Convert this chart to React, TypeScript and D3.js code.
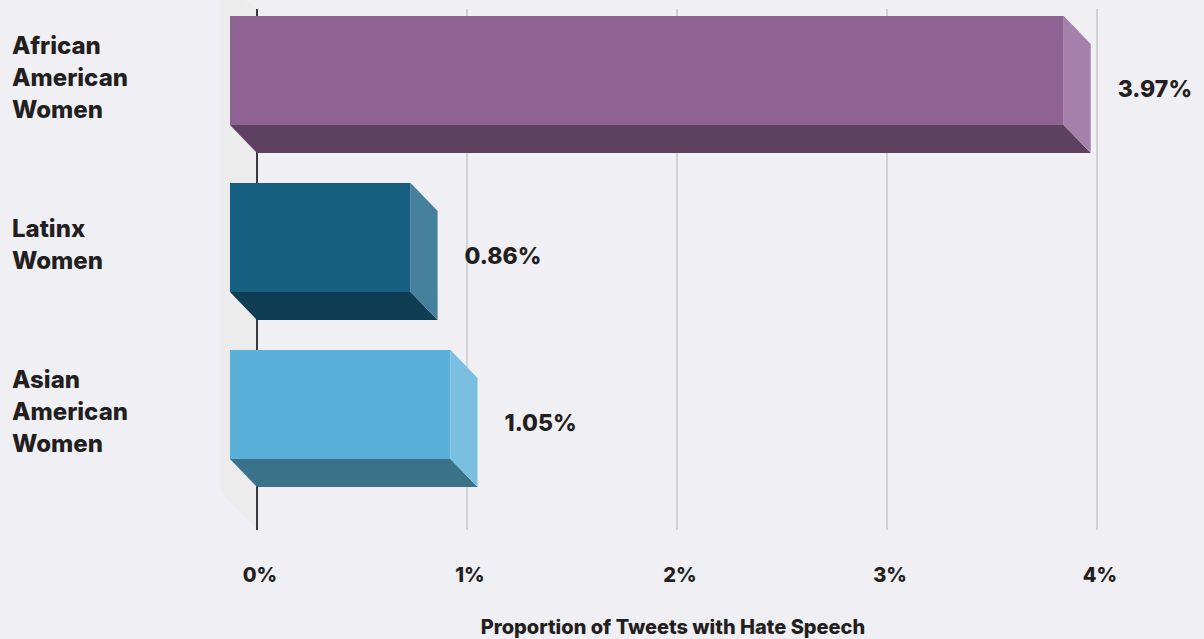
import React from "react";
import * as d3 from "d3";

const categories = ["African American Women", "Latinx Women", "Asian American Women"];
const categoryLines = [["African", "American", "Women"], ["Latinx", "Women"], ["Asian", "American", "Women"]];
const values = [3.97, 0.86, 1.05];
const valueLabels = ["3.97%", "0.86%", "1.05%"];
const ticks = [0, 1, 2, 3, 4];
const tickLabels = ["0%", "1%", "2%", "3%", "4%"];
const frontColors = ["#8e6393", "#175f80", "#5ab0d9"];
const bottomColors = ["#5e4061", "#0f3d54", "#3a7289"];
const sideColors = ["#a580aa", "#45809d", "#7bbfe0"];
const axisTitle = "Proportion of Tweets with Hate Speech";

const W = 1204;
const H = 639;
const DX = 27;
const DY = 28;
const FONT = "Inter, 'Noto Sans', sans-serif";
const TEXT = "#231f20";

export default function App() {
  const x = d3.scaleLinear().domain([0, 4]).range([257, 1097]);
  const y = d3.scaleBand<string>().domain(categories).range([16, 487]).paddingInner(30 / 167).paddingOuter(0);
  const bw = y.bandwidth();
  const frontH = bw - DY;
  const x0 = x(0);
  const gridTop = 9;
  const gridBottom = 530;

  const wall = [
    [x0 - 37, gridTop - 28],
    [x0, gridTop],
    [x0, gridBottom],
    [x0 - 37, gridBottom - 39],
  ];

  return (
    <svg width={W} height={H} style={{ position: "absolute", left: 0, top: 0, display: "block" }}>
      <rect x={0} y={0} width={W} height={H} fill="#f0eff4" />
      <polygon points={wall.map((p) => p.join(",")).join(" ")} fill="#ececed" />
      {ticks.map((t, i) => (
        <line
          key={"g" + i}
          x1={x(t)}
          x2={x(t)}
          y1={gridTop}
          y2={gridBottom}
          stroke={t === 0 ? "#3a3a3a" : "#d2d1d4"}
          strokeWidth={2}
        />
      ))}
      {categories.map((c, i) => {
        const top = y(c)!;
        const xb = x(values[i]);
        const fx0 = x0 - DX;
        const fx1 = xb - DX;
        const front = `${fx0},${top} ${fx1},${top} ${fx1},${top + frontH} ${fx0},${top + frontH}`;
        const bottom = `${fx0},${top + frontH} ${fx1},${top + frontH} ${xb},${top + bw} ${x0},${top + bw}`;
        const side = `${fx1},${top} ${xb},${top + DY} ${xb},${top + bw} ${fx1},${top + frontH}`;
        return (
          <g key={c}>
            <polygon points={front} fill={frontColors[i]} />
            <polygon points={bottom} fill={bottomColors[i]} />
            <polygon points={side} fill={sideColors[i]} />
            <text
              x={xb + 27}
              y={top + bw / 2 + 12}
              fontFamily={FONT}
              fontWeight={800}
              fontSize={23}
              fill={TEXT}
            >
              {valueLabels[i]}
            </text>
          </g>
        );
      })}
      {categories.map((c, i) => {
        const lines = categoryLines[i];
        const center = y(c)! + bw / 2;
        const lh = 32;
        const first = center + 1 - ((lines.length - 1) * lh) / 2;
        return (
          <text key={"l" + c} fontFamily={FONT} fontWeight={800} fontSize={24} fill={TEXT}>
            {lines.map((ln, j) => (
              <tspan key={j} x={12} y={first + j * lh}>
                {ln}
              </tspan>
            ))}
          </text>
        );
      })}
      {ticks.map((t, i) => (
        <text
          key={"t" + i}
          x={x(t) + 3}
          y={582}
          textAnchor="middle"
          fontFamily={FONT}
          fontWeight={800}
          fontSize={20}
          fill={TEXT}
        >
          {tickLabels[i]}
        </text>
      ))}
      <text x={673} y={634} textAnchor="middle" fontFamily={FONT} fontWeight={800} fontSize={20} fill={TEXT}>
        {axisTitle}
      </text>
    </svg>
  );
}
